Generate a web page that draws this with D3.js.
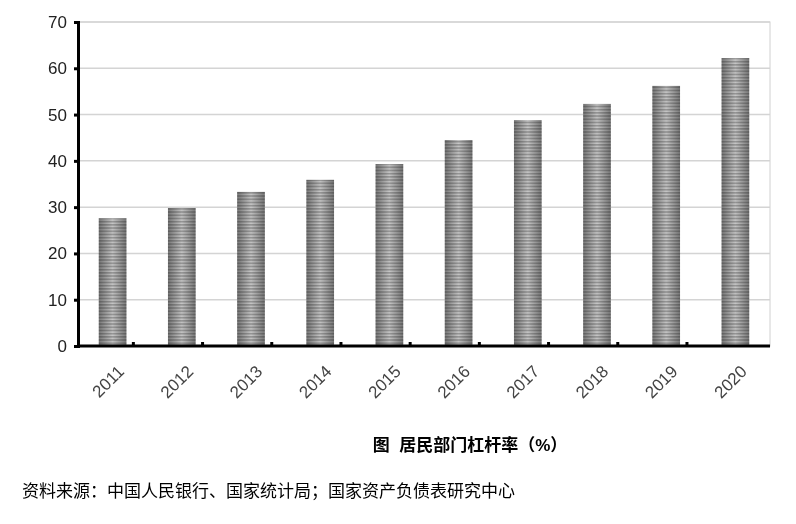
<!DOCTYPE html><html><head><meta charset="utf-8"><script src="https://cdn.jsdelivr.net/npm/d3@7"></script>
<style>body{margin:0;background:#fff}text{font-family:"Liberation Sans","Noto Sans CJK SC",sans-serif}</style></head><body>
<svg id="c" width="796" height="524"></svg>
<script>
const years=["2011","2012","2013","2014","2015","2016","2017","2018","2019","2020"];
const values=[27.6,29.8,33.3,35.9,39.3,44.5,48.8,52.3,56.2,62.2];
const yTicks=[0,10,20,30,40,50,60,70];
const svg=d3.select("#c");
const L=78,R=770,T=22,B=346;
const x=d3.scaleBand().domain(years).range([L,R]).paddingInner(0.6).paddingOuter(0.3);
const y=d3.scaleLinear().domain([0,70]).range([B,T]);
const defs=svg.append("defs");
const g=defs.append("linearGradient").attr("id","gr");
[["0%","#7a7a7a"],["50%","#c8c8c8"],["100%","#7a7a7a"]].forEach(s=>g.append("stop").attr("offset",s[0]).attr("stop-color",s[1]));
const p=defs.append("pattern").attr("id","st").attr("patternUnits","userSpaceOnUse").attr("width",4).attr("height",3.2);
p.append("rect").attr("width",4).attr("height",3.2).attr("fill","#fff");
p.append("rect").attr("width",4).attr("height",1.8).attr("fill","#000").attr("opacity",0.25);
svg.append("rect").attr("x",L).attr("y",T).attr("width",R-L).attr("height",B-T).attr("fill","none").attr("stroke","#d0d0d0");
svg.selectAll(".gl").data(yTicks.slice(1)).join("line").attr("x1",L).attr("x2",R).attr("y1",d=>y(d)).attr("y2",d=>y(d)).attr("stroke","#d4d4d4").attr("stroke-width",1.5);
const bars=svg.selectAll(".b").data(values).join("g");
bars.append("rect").attr("x",(d,i)=>x(years[i])).attr("width",x.bandwidth()).attr("y",d=>y(d)).attr("height",d=>B-y(d)).attr("fill","url(#gr)");
bars.append("rect").attr("x",(d,i)=>x(years[i])).attr("width",x.bandwidth()).attr("y",d=>y(d)).attr("height",d=>B-y(d)).attr("fill","url(#st)").style("mix-blend-mode","multiply");
const ya=svg.append("g").attr("transform",`translate(${L},0)`).call(d3.axisLeft(y).tickValues(yTicks).tickSize(4).tickFormat(d3.format("d")));
ya.select(".domain").attr("stroke","#000").attr("stroke-width",3);
ya.selectAll("text").attr("font-size",17).attr("fill","#222").attr("dx",-4);
ya.selectAll("line").attr("stroke-width",3).attr("x2",-4);
const step=x.step();
const xa=svg.append("g").attr("transform",`translate(0,${B})`).call(d3.axisBottom(x).tickSize(0).tickSizeOuter(0));
xa.select(".domain").attr("stroke","#000").attr("stroke-width",3).attr("d",`M${L-1},0H${R}`);
xa.selectAll("text").attr("font-size",17).attr("fill","#444").attr("text-anchor","end").attr("transform","translate(2,16) rotate(-45)").attr("dy","0.7em");
svg.selectAll(".xt").data(years.slice(1)).join("line").attr("x1",d=>x(d)-step/2).attr("x2",d=>x(d)-step/2).attr("y1",B-4).attr("y2",B).attr("stroke","#000").attr("stroke-width",3);
svg.append("text").attr("x",470).attr("y",451).attr("text-anchor","middle").attr("font-size",17).attr("font-weight","bold").attr("xml:space","preserve").text("图  居民部门杠杆率（%）");
svg.append("text").attr("x",22).attr("y",497).attr("font-size",17).text("资料来源：中国人民银行、国家统计局；国家资产负债表研究中心");
</script></body></html>
